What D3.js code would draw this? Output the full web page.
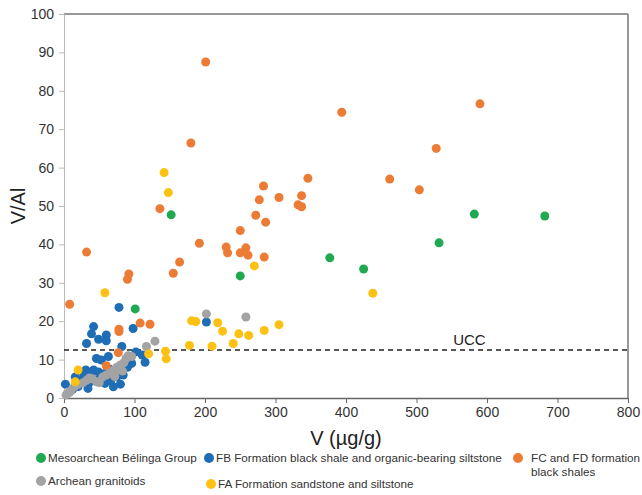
<!DOCTYPE html>
<html>
<head>
<meta charset="utf-8">
<script src="https://cdn.jsdelivr.net/npm/d3@7"></script>
<style>
  body { margin: 0; background: #fff; }
  svg { font-family: "Liberation Sans", Arial, sans-serif; }
</style>
</head>
<body>
<svg id="chart" width="642" height="495"></svg>
<script>
// values: [V (µg/g), V/Al]
let belinga = [[101, 23.2], [152, 47.7], [250, 31.8], [377, 36.5], [425, 33.6], [532, 40.4], [582, 47.9], [682, 47.4]]

let fbShale = [[78, 23.6], [42, 18.6], [39, 16.7], [60, 16.4], [49, 15.3], [60, 14.9], [32, 14.2], [98, 18.1],
  [82, 13.4], [111, 11.2], [115, 9.3], [46, 10.3], [53, 9.9], [63, 10.8], [31, 7.3], [2, 3.6], [16, 5.5],
  [34, 2.5], [42, 7.3], [49, 6.8], [58, 6.4], [70, 6.8], [75, 5.5], [84, 6.0], [96, 9.0], [44, 4.7],
  [58, 3.8], [25, 4.7], [70, 2.9], [202, 19.8], [28, 6.0], [52, 5.2], [65, 7.5], [38, 5.8], [20, 3.0],
  [90, 8.0], [102, 12.0], [12, 2.2], [66, 4.5], [80, 3.6], [36, 4.0]]

let fcfdShale = [[394, 74.4], [590, 76.6], [528, 65.0], [462, 57.0], [504, 54.2], [283, 55.2], [346, 57.2],
  [277, 51.6], [305, 52.2], [337, 52.7], [332, 50.3], [337, 49.8], [136, 49.3], [272, 47.6], [286, 45.8],
  [250, 43.6], [192, 40.3], [230, 39.3], [232, 37.8], [258, 39.1], [250, 37.8], [261, 37.2], [284, 36.7],
  [164, 35.4], [155, 32.5], [92, 32.3], [90, 30.9], [108, 19.5], [122, 19.2], [8, 24.4], [78, 17.9],
  [78, 17.3], [77, 11.8], [60, 8.4], [32, 38.0], [201, 87.5], [180, 66.4]]

let granitoids = [[202, 21.9], [258, 21.1], [129, 14.8], [117, 13.4], [3, 0.8], [5, 1.2], [8, 1.5], [10, 2.0],
  [15, 3.0], [20, 3.5], [27, 4.0], [32, 4.6], [40, 5.0], [46, 4.2], [55, 5.5], [60, 6.0], [65, 6.5],
  [70, 7.2], [75, 8.0], [80, 8.6], [85, 9.2], [88, 10.3], [91, 11.0], [96, 10.8], [78, 7.4], [72, 5.6],
  [50, 4.0], [36, 5.2], [83, 7.0]]

let faSand = [[142, 58.7], [148, 53.5], [270, 34.4], [438, 27.3], [58, 27.4], [181, 20.1], [187, 19.9],
  [218, 19.6], [225, 17.4], [248, 16.7], [262, 16.3], [284, 17.6], [305, 19.1], [178, 13.7], [210, 13.5],
  [240, 14.2], [144, 12.2], [145, 10.2], [120, 11.5], [20, 7.3], [16, 4.2]]

let xTicks = [0, 100, 200, 300, 400, 500, 600, 700, 800]
let yTicks = [0, 10, 20, 30, 40, 50, 60, 70, 80, 90, 100]
let uccValue = 12.5

let groups = [
  { name: 'Mesoarchean Bélinga Group', color: '#1fa951', data: belinga },
  { name: 'FB Formation black shale and organic-bearing siltstone', color: '#1f6db5', data: fbShale },
  { name: 'FC and FD formation black shales', color: '#ec7c35', data: fcfdShale },
  { name: 'Archean granitoids', color: '#a3a3a3', data: granitoids },
  { name: 'FA Formation sandstone and siltstone', color: '#fdc114', data: faSand }
]

let svg = d3.select('#chart')
let plotLeft = 64, plotRight = 628, plotTop = 14, plotBottom = 398

let x = d3.scaleLinear().domain([0, 800]).range([plotLeft, plotRight])
let y = d3.scaleLinear().domain([0, 100]).range([plotBottom, plotTop])

// frame top and right
svg.append('line').attr('x1', plotLeft).attr('x2', plotRight).attr('y1', plotTop).attr('y2', plotTop)
  .attr('stroke', '#777').attr('stroke-width', 1.5)
svg.append('line').attr('x1', plotRight).attr('x2', plotRight).attr('y1', plotTop).attr('y2', plotBottom)
  .attr('stroke', '#777').attr('stroke-width', 1.5)

let yAxis = svg.append('g').attr('transform', `translate(${plotLeft},0)`)
  .call(d3.axisLeft(y).tickValues(yTicks).tickSize(5).tickPadding(5))
yAxis.select('.domain').attr('stroke', '#bbb')
yAxis.selectAll('.tick line').attr('stroke', '#bbb')
yAxis.selectAll('text').attr('font-size', 14).attr('fill', '#333').attr('font-family', 'Liberation Sans, Arial, sans-serif')

let xAxis = svg.append('g').attr('transform', `translate(0,${plotBottom})`)
  .call(d3.axisBottom(x).tickValues(xTicks).tickSize(5).tickSizeOuter(0).tickPadding(4))
xAxis.select('.domain').attr('stroke', '#666').attr('stroke-width', 1.5)
xAxis.selectAll('.tick line').attr('stroke', '#666')
xAxis.selectAll('text').attr('font-size', 14).attr('fill', '#333').attr('font-family', 'Liberation Sans, Arial, sans-serif')

// UCC reference
svg.append('line').attr('x1', plotLeft).attr('x2', plotRight).attr('y1', y(uccValue)).attr('y2', y(uccValue))
  .attr('stroke', '#222').attr('stroke-width', 1.3).attr('stroke-dasharray', '5,4')
svg.append('text').attr('x', x(575)).attr('y', y(uccValue) - 5).attr('text-anchor', 'middle')
  .attr('font-size', 15).attr('fill', '#222').text('UCC')

// points
groups.forEach(g => {
  svg.append('g').selectAll('circle')
    .data(g.data)
    .enter()
    .append('circle')
    .attr('cx', d => x(d[0]))
    .attr('cy', d => y(d[1]))
    .attr('r', 4.5)
    .attr('fill', g.color)
})

// axis titles
svg.append('text').attr('transform', `translate(25,${(plotTop + plotBottom) / 2}) rotate(-90)`)
  .attr('text-anchor', 'middle').attr('font-size', 20).attr('fill', '#222').text('V/Al')
svg.append('text').attr('x', (plotLeft + plotRight) / 2).attr('y', 445)
  .attr('text-anchor', 'middle').attr('font-size', 20).attr('fill', '#222').text('V (µg/g)')

// legend
let legendItems = [
  { g: 0, x: 41, y: 458 },
  { g: 1, x: 209, y: 458 },
  { g: 2, x: 518, y: 458 },
  { g: 3, x: 41, y: 481 },
  { g: 4, x: 211, y: 484 }
]
legendItems.forEach(item => {
  let g = groups[item.g]
  svg.append('circle').attr('cx', item.x).attr('cy', item.y).attr('r', 5).attr('fill', g.color)
  let tx = item.x + (item.g === 2 ? 13 : 7)
  let t = svg.append('text').attr('x', tx).attr('y', item.y + 4)
    .attr('font-size', 11.7).attr('fill', '#333')
  if (item.g === 2) {
    t.append('tspan').text('FC and FD formation')
    t.append('tspan').attr('x', tx).attr('dy', 14).text('black shales')
  } else {
    t.text(g.name)
  }
})
</script>
</body>
</html>
